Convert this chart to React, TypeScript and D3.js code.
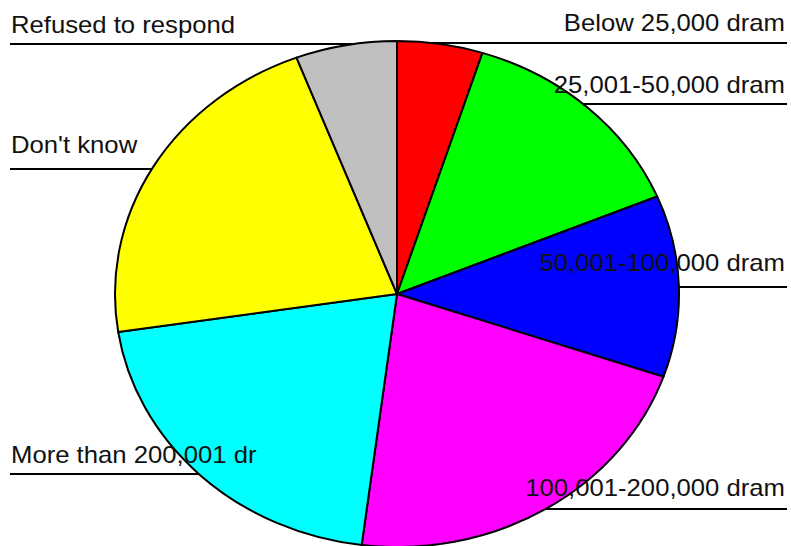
import React from "react";
import * as d3 from "d3";

const categories = [
  "Below 25,000 dram",
  "25,001-50,000 dram",
  "50,001-100,000 dram",
  "100,001-200,000 dram",
  "More than 200,001 dr",
  "Don't know",
  "Refused to respond",
];
const values = [4.9, 13.8, 11.6, 21.7, 20.6, 21.6, 5.8];
const colors = ["#ff0000", "#00ff00", "#0000ff", "#ff00ff", "#00ffff", "#ffff00", "#c0c0c0"];

// label layout: side, text baseline y, leader line y
const labelSide = ["right", "right", "right", "right", "left", "left", "left"];
const labelBaseline = [31, 93, 271, 496, 463, 153, 33];
const labelLineY = [43, 104, 287, 509, 474, 169, 44];

const W = 791;
const H = 546;
const cx = 397;
const cy = 294;
const rx = 282;
const ry = 253;

export default function App() {
  const pie = d3.pie<number>().sort(null).startAngle(0).endAngle(2 * Math.PI);
  const arcs = pie(values);
  const arc = d3.arc<d3.PieArcDatum<number>>().innerRadius(0).outerRadius(ry);
  const font = "'Liberation Sans', Arial, sans-serif";
  return (
    <svg
      width={W}
      height={H}
      style={{ position: "absolute", left: 0, top: 0, background: "#fff" }}
    >
      {categories.map((c, i) => {
        const left = labelSide[i] === "left";
        return (
          <line
            key={"l" + i}
            x1={left ? 10 : cx}
            x2={left ? cx : 787}
            y1={labelLineY[i]}
            y2={labelLineY[i]}
            stroke="#000"
            strokeWidth={2}
          />
        );
      })}
      <g transform={`translate(${cx},${cy}) scale(${rx / ry},1)`}>
        {arcs.map((a, i) => (
          <path
            key={i}
            d={arc(a) || ""}
            fill={colors[i]}
            stroke="#000"
            strokeWidth={2}
            vectorEffect="non-scaling-stroke"
            strokeLinejoin="round"
          />
        ))}
      </g>
      {categories.map((c, i) => {
        const left = labelSide[i] === "left";
        return (
          <text
            key={"t" + i}
            transform={`translate(${left ? 11 : 785},${labelBaseline[i]}) scale(1.07,1)`}
            textAnchor={left ? "start" : "end"}
            fontFamily={font}
            fontSize={24}
            fill="#111"
          >
            {c}
          </text>
        );
      })}
    </svg>
  );
}
